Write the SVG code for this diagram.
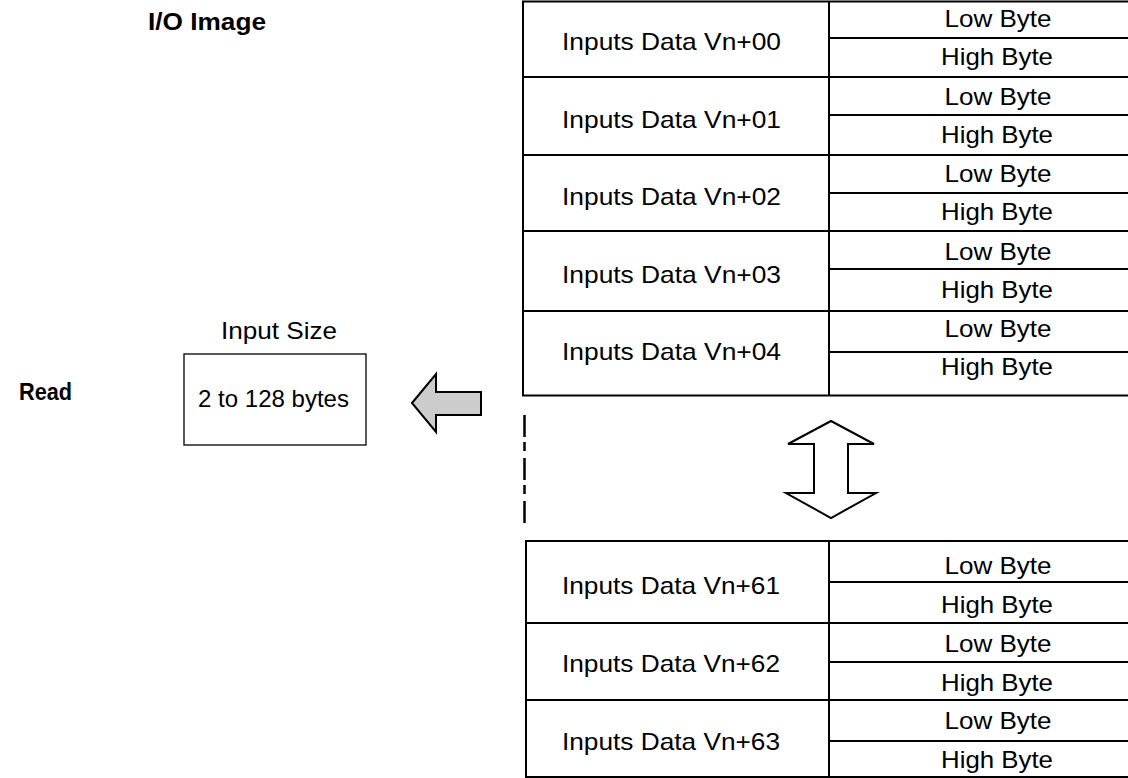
<svg xmlns="http://www.w3.org/2000/svg" width="1128" height="778" viewBox="0 0 1128 778">
<style>
.t{font-family:"Liberation Sans",Arial,Helvetica,sans-serif;font-size:24px;fill:#000;text-anchor:middle}
.b{font-family:"Liberation Sans",Arial,Helvetica,sans-serif;font-weight:bold;fill:#000}
.ln{stroke:#000;stroke-width:2;fill:none}
</style>
<rect width="1128" height="778" fill="#fff"/>
<text class="b" x="148" y="30" font-size="24" textLength="118" lengthAdjust="spacingAndGlyphs">I/O Image</text>
<text class="b" x="19" y="400" font-size="23" textLength="53" lengthAdjust="spacingAndGlyphs">Read</text>

<g id="input-size">
<text class="t" x="279" y="339" textLength="116" lengthAdjust="spacingAndGlyphs">Input Size</text>
<rect x="184" y="354" width="182" height="91" fill="#fff" stroke="#000" stroke-width="1.3"/>
<text class="t" x="273.5" y="407" font-size="22" textLength="151" lengthAdjust="spacingAndGlyphs">2 to 128 bytes</text>
</g>

<g id="table-top">
<rect x="523" y="1.5" width="610" height="394" class="ln"/>
<line x1="829" y1="1.5" x2="829" y2="395.5" class="ln"/>
<path class="ln" d="M523 77H1128M523 155H1128M523 231H1128M523 311H1128M829 38H1128M829 115H1128M829 193H1128M829 269H1128M829 352H1128"/>
<g class="t">
<text x="671.5" y="50" textLength="219" lengthAdjust="spacingAndGlyphs">Inputs Data Vn+00</text>
<text x="671.5" y="127.5" textLength="219" lengthAdjust="spacingAndGlyphs">Inputs Data Vn+01</text>
<text x="671.5" y="205" textLength="219" lengthAdjust="spacingAndGlyphs">Inputs Data Vn+02</text>
<text x="671.5" y="282.5" textLength="219" lengthAdjust="spacingAndGlyphs">Inputs Data Vn+03</text>
<text x="671.5" y="360" textLength="219" lengthAdjust="spacingAndGlyphs">Inputs Data Vn+04</text>
<text x="998" y="27" textLength="107" lengthAdjust="spacingAndGlyphs">Low Byte</text>
<text x="997" y="65" textLength="112" lengthAdjust="spacingAndGlyphs">High Byte</text>
<text x="998" y="104.5" textLength="107" lengthAdjust="spacingAndGlyphs">Low Byte</text>
<text x="997" y="142.5" textLength="112" lengthAdjust="spacingAndGlyphs">High Byte</text>
<text x="998" y="182" textLength="107" lengthAdjust="spacingAndGlyphs">Low Byte</text>
<text x="997" y="220" textLength="112" lengthAdjust="spacingAndGlyphs">High Byte</text>
<text x="998" y="259.5" textLength="107" lengthAdjust="spacingAndGlyphs">Low Byte</text>
<text x="997" y="297.5" textLength="112" lengthAdjust="spacingAndGlyphs">High Byte</text>
<text x="998" y="337" textLength="107" lengthAdjust="spacingAndGlyphs">Low Byte</text>
<text x="997" y="375" textLength="112" lengthAdjust="spacingAndGlyphs">High Byte</text>
</g>
</g>

<g id="table-bottom">
<rect x="526" y="541" width="607" height="236" class="ln"/>
<line x1="829" y1="541" x2="829" y2="777" class="ln"/>
<path class="ln" d="M526 623H1128M526 700H1128M829 582H1128M829 662H1128M829 741H1128"/>
<g class="t">
<text x="671" y="594" textLength="218" lengthAdjust="spacingAndGlyphs">Inputs Data Vn+61</text>
<text x="671" y="672" textLength="218" lengthAdjust="spacingAndGlyphs">Inputs Data Vn+62</text>
<text x="671" y="750" textLength="218" lengthAdjust="spacingAndGlyphs">Inputs Data Vn+63</text>
<text x="998" y="574" textLength="107" lengthAdjust="spacingAndGlyphs">Low Byte</text>
<text x="997" y="613" textLength="112" lengthAdjust="spacingAndGlyphs">High Byte</text>
<text x="998" y="652" textLength="107" lengthAdjust="spacingAndGlyphs">Low Byte</text>
<text x="997" y="691" textLength="112" lengthAdjust="spacingAndGlyphs">High Byte</text>
<text x="998" y="729" textLength="107" lengthAdjust="spacingAndGlyphs">Low Byte</text>
<text x="997" y="768" textLength="112" lengthAdjust="spacingAndGlyphs">High Byte</text>
</g>
</g>

<g id="connectors">
<polygon id="read-arrow" points="412,403 436,374 436,392 481,392 481,415 436,415 436,432" fill="#cccccc" stroke="#000" stroke-width="2" stroke-linejoin="miter"/>
<polygon id="double-arrow" points="831,421 874,444 848,444 848,493 876,493 831,518 786,493 814,493 814,444 788,444" fill="#fff" stroke="#000" stroke-width="2"/>
<line id="break-line" x1="524.5" y1="415" x2="524.5" y2="523" stroke="#000" stroke-width="2.5" stroke-dasharray="22 5 9 7"/>
</g>
</svg>
